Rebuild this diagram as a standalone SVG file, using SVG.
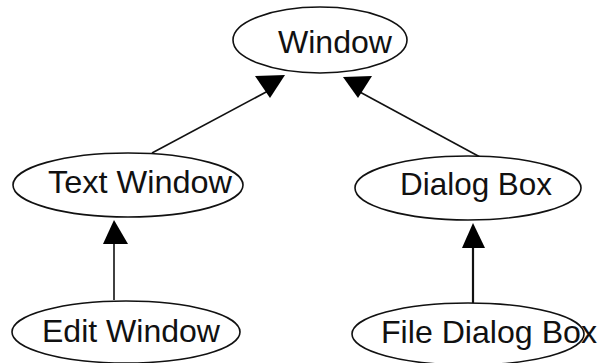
<svg xmlns="http://www.w3.org/2000/svg" width="600" height="363" viewBox="0 0 600 363">
  <style>
    .node ellipse { fill: #ffffff; stroke: #111111; stroke-width: 1.6; }
    .node text { font-family: "Liberation Sans", Arial, sans-serif; font-size: 32px; fill: #111111; }
    .edge line { stroke: #111111; stroke-width: 1.6; }
    .edge polygon { fill: #000000; }
  </style>
  <rect width="600" height="363" fill="#ffffff"/>

  <!-- inheritance connectors -->
  <g id="connectors" class="edge">
    <line x1="152" y1="153" x2="268" y2="91"/>
    <polygon points="255,76 285,75 270,98"/>
    <line x1="480" y1="157" x2="358" y2="91"/>
    <polygon points="343,77 372,76 358,98"/>
    <line x1="114" y1="244" x2="114" y2="300"/>
    <polygon points="114,220 103,244 128,244"/>
    <line x1="473" y1="248" x2="473" y2="303" style="stroke-width:2.2"/>
    <polygon points="473,223 462,248 485,248"/>
  </g>

  <g id="window" class="node">
    <ellipse cx="320" cy="40" rx="87" ry="33"/>
    <text x="278" y="53" textLength="114" lengthAdjust="spacingAndGlyphs">Window</text>
  </g>

  <g id="text-window" class="node">
    <ellipse cx="128" cy="185" rx="115" ry="32"/>
    <text x="48" y="193" textLength="184" lengthAdjust="spacingAndGlyphs">Text Window</text>
  </g>

  <g id="dialog-box" class="node">
    <ellipse cx="468" cy="188" rx="113" ry="32"/>
    <text x="400" y="195" textLength="152" lengthAdjust="spacingAndGlyphs">Dialog Box</text>
  </g>

  <g id="edit-window" class="node">
    <ellipse cx="126" cy="332" rx="114" ry="31"/>
    <text x="42" y="342" textLength="178" lengthAdjust="spacingAndGlyphs">Edit Window</text>
  </g>

  <g id="file-dialog-box" class="node">
    <ellipse cx="468" cy="334" rx="116" ry="31"/>
    <text x="381" y="343" textLength="216" lengthAdjust="spacingAndGlyphs">File Dialog Box</text>
  </g>
</svg>
